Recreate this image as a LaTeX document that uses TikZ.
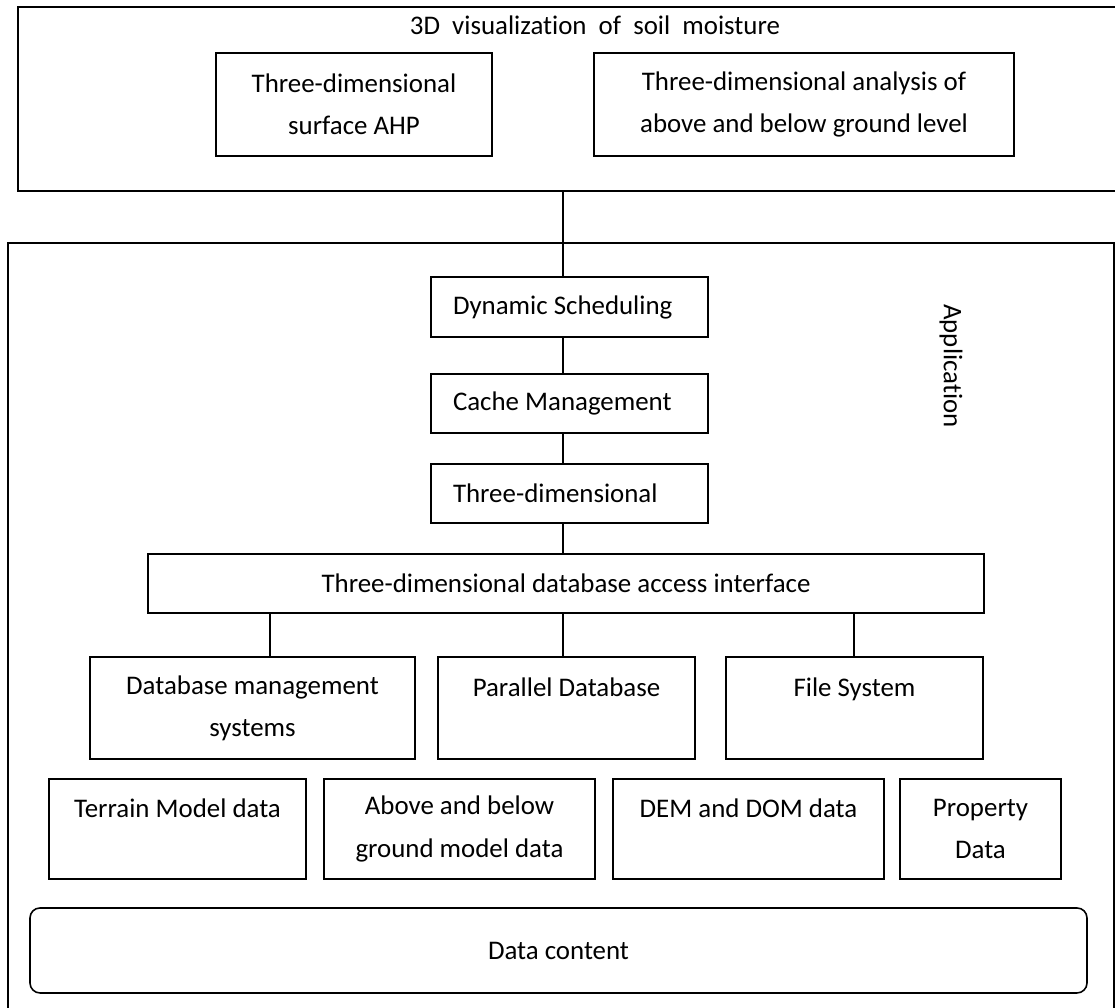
\documentclass[tikz,border=0pt]{standalone}
\usepackage{fontspec}
\setmainfont{Carlito}[Ligatures=NoCommon]
\usepackage{tikz}

\tikzset{
  box/.style={draw, line width=0.9pt, align=center, inner sep=0pt},
  stackbox/.style={box, minimum width=5.54cm, minimum height=1.19cm, text width=4.66cm, align=flush left, inner xsep=0.44cm},
  link/.style={line width=0.9pt}
}

\begin{document}
\begin{tikzpicture}[every node/.style={font=\fontsize{15.3}{24}\selectfont}]
  \useasboundingbox (0,0) rectangle (22.3,20.16);
  \clip (0,0) rectangle (22.3,20.16);

  % visualization layer
  \node[box, minimum width=22.14cm, minimum height=3.68cm] (vis) at (11.43,18.18) {};
  \node (title) at (11.9,19.66) {3D\ \ visualization\ \ of\ \ soil\ \ moisture};
  \node[box, minimum width=5.52cm, minimum height=2.06cm] (ahp) at (7.08,18.07) {Three-dimensional\\surface AHP};
  \node[box, minimum width=8.40cm, minimum height=2.06cm] (ground) at (16.08,18.07) {Three-dimensional analysis of\\above and below ground level};

  % application layer
  \node[box, minimum width=22.12cm, minimum height=15.54cm] (app) at (11.22,7.53) {};
  \node[rotate=-90] (applabel) at (19.02,12.84) {Application};
  \node[stackbox] (dyn) at (11.39,14.02) {Dynamic Scheduling};
  \node[stackbox] (cache) at (11.39,12.09) {Cache Management};
  \node[stackbox] (threed) at (11.39,10.29) {Three-dimensional};
  \node[box, minimum width=16.72cm, minimum height=1.18cm] (iface) at (11.32,8.49) {Three-dimensional database access interface};

  % storage
  \node[box, minimum width=6.50cm, minimum height=2.04cm] (dbms) at (5.05,6.00) {Database management\\systems};
  \node[box, minimum width=5.14cm, minimum height=2.04cm] (par) at (11.33,6.00) {Parallel Database\\\mbox{}};
  \node[box, minimum width=5.14cm, minimum height=2.04cm] (fs) at (17.09,6.00) {File System\\\mbox{}};

  % data
  \node[box, minimum width=5.14cm, minimum height=2.00cm] (terrain) at (3.55,3.58) {Terrain Model data\\\mbox{}};
  \node[box, minimum width=5.42cm, minimum height=2.00cm] (above) at (9.19,3.58) {Above and below\\ground model data};
  \node[box, minimum width=5.42cm, minimum height=2.00cm] (dem) at (14.97,3.58) {DEM and DOM data\\\mbox{}};
  \node[box, minimum width=3.22cm, minimum height=2.00cm] (prop) at (19.61,3.58) {Property\\Data};
  \node[box, rounded corners=0.2cm, minimum width=21.14cm, minimum height=1.70cm] (content) at (11.17,1.15) {Data content};

  % connectors
  \coordinate (spine) at (11.26,0);
  \draw[link] (vis.south -| spine) -- (dyn.north -| spine);
  \draw[link] (dyn.south -| spine) -- (cache.north -| spine);
  \draw[link] (cache.south -| spine) -- (threed.north -| spine);
  \draw[link] (threed.south -| spine) -- (iface.north -| spine);
  \foreach \n/\x in {dbms/5.4, par/11.26, fs/17.08} {
    \coordinate (tap) at (\x,0);
    \draw[link] (iface.south -| tap) -- (\n.north -| tap);
  }
\end{tikzpicture}
\end{document}
